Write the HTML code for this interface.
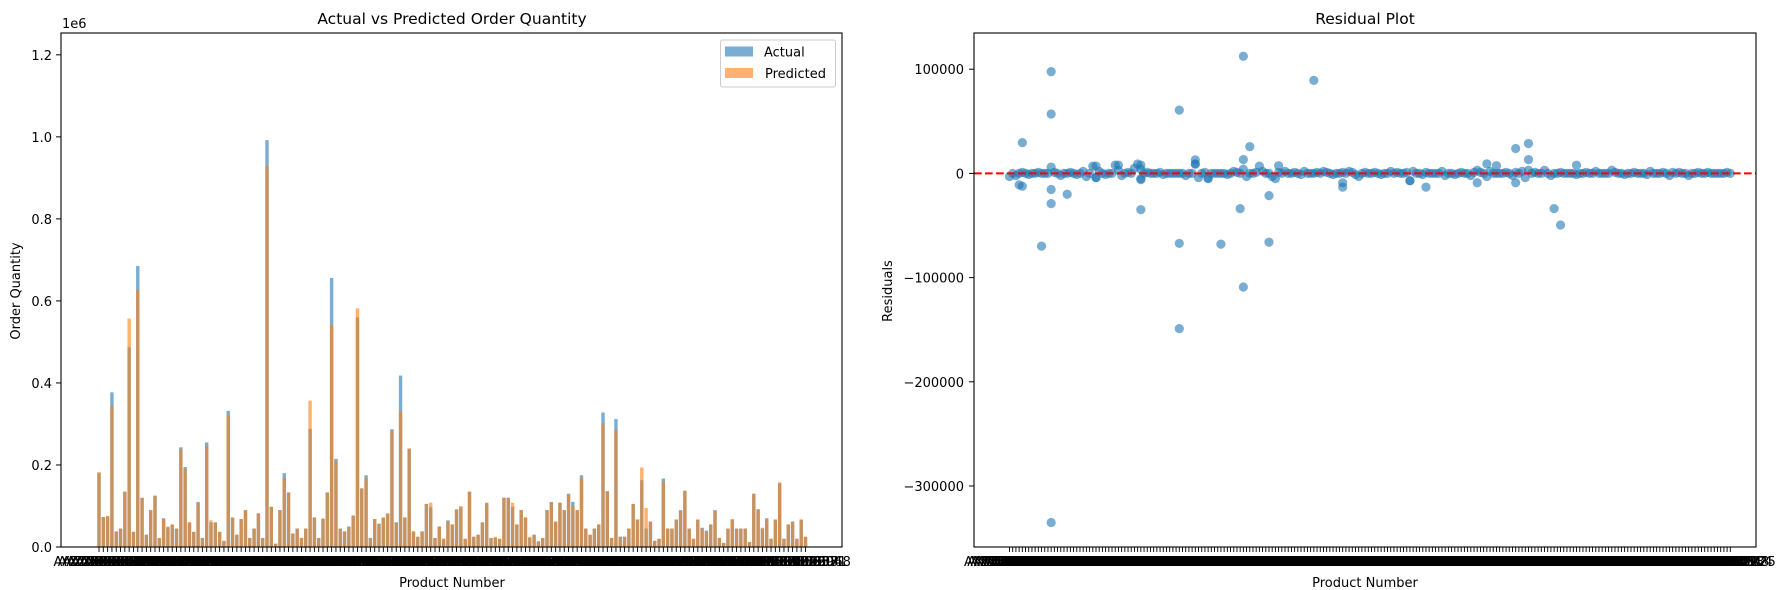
<!DOCTYPE html>
<html>
<head>
<meta charset="utf-8">
<style>
  html,body{margin:0;padding:0;background:#fff;}
  svg{display:block;font-family:"DejaVu Sans","Liberation Sans",sans-serif;}
</style>
</head>
<body>
<svg id="chart" width="1783" height="590" viewBox="0 0 1783 590" xmlns="http://www.w3.org/2000/svg">
  <rect x="0" y="0" width="1783" height="590" fill="#fff"/>
  <g id="left"></g>
  <g id="right"></g>
</svg>
<script>
// ---------- Left chart data (values in thousands) ----------
const actualValues = [180,73,75,377,38,45,135,487,37,685,120,30,90,125,22,70,48,55,45,243,195,60,37,110,22,255,60,60,37,15,332,72,30,68,90,22,45,82,22,992,98,8,90,180,133,33,45,22,45,288,72,22,68,133,656,215,45,38,50,77,560,143,175,22,68,57,72,82,287,60,418,72,240,38,25,38,105,97,22,50,20,65,55,92,97,20,135,25,30,60,108,22,22,20,120,120,98,55,90,72,22,30,14,22,90,110,62,108,90,130,110,90,175,45,30,45,55,
328,136,22,312,25,25,45,105,67,163,45,62,15,20,167,45,45,67,90,137,45,20,67,47,40,55,90,22,10,45,67,45,45,45,12,130,92,45,70,20,67,155,20,55,62,20,67,25];
const predictedValues = [183,73,75,345,38,45,135,557,37,627,120,30,90,125,22,68,50,55,45,238,190,60,37,107,22,246,65,60,37,15,322,72,30,68,90,22,45,82,22,929,98,8,90,168,133,32,45,22,45,357,72,22,70,133,541,210,45,38,48,75,582,143,168,22,68,55,72,80,283,60,330,72,240,38,25,38,105,108,22,50,20,62,55,90,100,20,135,25,30,60,105,22,25,20,120,120,108,55,90,72,25,30,12,22,90,108,62,108,90,128,100,90,168,45,30,45,55,
302,136,22,285,25,25,45,105,67,194,95,62,15,20,160,45,45,67,88,137,45,20,67,45,37,55,88,22,10,45,68,45,45,45,12,130,92,47,67,20,67,158,20,55,62,20,67,25];
const leftTickValues = [0,0.2,0.4,0.6,0.8,1.0,1.2];
const leftTickLabels = ["0.0","0.2","0.4","0.6","0.8","1.0","1.2"];

// ---------- Right chart data (residuals in thousands) ----------
const residualBulk = [-3,0,-2,0,1,0,-1,0,0,1,0,0,0,6,1,0,-2,0,0,1,0,-1,0,2,-3,0,7,-4,2,0,-1,0,0,8,3,-2,0,1,0,5,9,-6,0,1,0,0,0,1,-1,0,0,0,0,0,0,-2,0,0,9,-4,0,1,-5,0,0,0,0,0,-1,0,2,1,0,4,-3,0,0,1,7,2,0,0,-3,-5,1,0,2,0,0,1,0,-1,2,0,0,0,1,0,2,1,0,-1,0,0,1,0,2,1,-1,-3,0,1,0,0,1,0,-1,0,0,2,0,1,0,0,1,-7,2,0,0,-1,1,0,0,0,0,2,-2,0,0,-1,0,1,0,0,-2,1,3,1,0,-3,2,0,0,0,0,1,0,-2,1,0,2,-4,3,0,1,0,0,3,0,-2,0,0,1,0,0,0,0,-1,0,0,1,0,0,2,0,0,0,0,3,1,0,0,-1,0,0,1,0,0,0,-1,2,0,0,0,1,0,-2,1,0,1,0,0,-2,0,0,1,0,0,1,0,0,0,0,0,1,0];
const outlierIdx = [13,13,13,13,13,4,4,3,18,10,41,41,41,41,53,53,53,58,58,66,72,73,73,73,75,81,81,84,95,104,104,125,130,146,149,152,158,158,162,162,170,172,177,62,27,27,34];
const outlierVal = [97.7,57,-15.4,-29,-335,29.5,-12.3,-11,-20,-69.8,-34.8,8,4,-5,60.7,-67.2,-149,13,9,-67.9,-33.8,112.4,-109,13.2,25.7,-21.3,-66,7.4,89.3,-13.2,-9,-7,-13.2,-9,9.2,7.4,23.9,-9,28.7,13.2,-33.8,-49.5,7.9,-4.6,7,-4,8];
const rightTickValues = [100,0,-100,-200,-300];
const rightTickLabels = ["100000","0","\u2212100000","\u2212200000","\u2212300000"];

const NS = "http://www.w3.org/2000/svg";
function mk(parent, tag, attrs, text){
  const e = document.createElementNS(NS, tag);
  for (const k in attrs) e.setAttribute(k, attrs[k]);
  if (text !== undefined) e.textContent = text;
  parent.appendChild(e);
  return e;
}
const TF = '13px';

// ---------- Left axes ----------
const L = {x0:61, x1:842, y0:33, y1:547};
const nBars = actualValues.length;
const lx = i => 99 + i*(805.5-99)/(nBars-1);
const ly = v => 547 - v*0.41015;
const left = document.getElementById('left');
const bw = 3.4;
for (let i=0;i<nBars;i++){
  const r = mk(left,'rect',{x:lx(i)-bw/2, y:ly(actualValues[i]), width:bw, height:547-ly(actualValues[i]), fill:'#1f77b4','fill-opacity':0.6});
  
  
}
for (let i=0;i<nBars;i++){
  const r = mk(left,'rect',{x:lx(i)-bw/2, y:ly(predictedValues[i]), width:bw, height:547-ly(predictedValues[i]), fill:'#ff7f0e','fill-opacity':0.6});
  
  
}
const lframe = mk(left,'rect',{x:L.x0,y:L.y0,width:L.x1-L.x0,height:L.y1-L.y0,fill:'none',stroke:'#000','stroke-width':1.1});


for (let k=0;k<leftTickValues.length;k++){
  const y = ly(leftTickValues[k]*1000);
  mk(left,'line',{x1:56,x2:61,y1:y,y2:y,stroke:'#000','stroke-width':1});
  const t = mk(left,'text',{x:52,y:y+5,'text-anchor':'end','font-size':TF,fill:'#000'}, leftTickLabels[k]);
  
  
}
const lexp = mk(left,'text',{x:62,y:28,'font-size':TF,fill:'#000'},'1e6');


for (let i=0;i<nBars;i++){
  mk(left,'line',{x1:lx(i),x2:lx(i),y1:547,y2:552,stroke:'#000','stroke-width':0.9});
}
for (let i=0;i<nBars;i++){
  const t = mk(left,'text',{x:lx(i),y:566,'text-anchor':'middle','font-size':TF,fill:'#000'},'AYZ'+String(10000000+i*37));
  
  
}
const ltitle = mk(left,'text',{x:452,y:24,'text-anchor':'middle','font-size':'15.5px',fill:'#000'},'Actual vs Predicted Order Quantity');


const lxl = mk(left,'text',{x:452,y:587,'text-anchor':'middle','font-size':TF,fill:'#000'},'Product Number');


const lyl = mk(left,'text',{x:0,y:0,'text-anchor':'middle','font-size':TF,fill:'#000',transform:'translate(20,291) rotate(-90)'},'Order Quantity');


// legend
const lg = mk(left,'g',{});


mk(lg,'rect',{x:720.5,y:40,width:115,height:47,rx:2,fill:'#fff','fill-opacity':0.8,stroke:'#cccccc','stroke-width':1});
const le1 = mk(lg,'rect',{x:725,y:46.5,width:28,height:10,fill:'#1f77b4','fill-opacity':0.6});


mk(lg,'text',{x:764,y:56.5,'font-size':TF,fill:'#000'},'Actual');
const le2 = mk(lg,'rect',{x:725,y:68,width:28,height:10,fill:'#ff7f0e','fill-opacity':0.6});


mk(lg,'text',{x:765,y:78,'font-size':TF,fill:'#000'},'Predicted');

// ---------- Right axes ----------
const R = {x0:974, x1:1756, y0:33, y1:547};
const nRes = residualBulk.length;
const rx = i => 1009.5 + i*3.2036;
const ry = v => 173.4 - v*1.042;
const right = document.getElementById('right');
for (let i=0;i<nRes;i++){
  const c = mk(right,'circle',{cx:rx(i),cy:ry(residualBulk[i]),r:4.6,fill:'#1f77b4','fill-opacity':0.6});
  
  
}
for (let k=0;k<outlierIdx.length;k++){
  const c = mk(right,'circle',{cx:rx(outlierIdx[k]),cy:ry(outlierVal[k]),r:4.6,fill:'#1f77b4','fill-opacity':0.6});
  
  
}
const zl = mk(right,'line',{x1:R.x0,x2:R.x1,y1:ry(0),y2:ry(0),stroke:'#ff0000','stroke-width':2,'stroke-dasharray':'7.7 3.3'});


const rframe = mk(right,'rect',{x:R.x0,y:R.y0,width:R.x1-R.x0,height:R.y1-R.y0,fill:'none',stroke:'#000','stroke-width':1.1});


for (let k=0;k<rightTickValues.length;k++){
  const y = ry(rightTickValues[k]);
  mk(right,'line',{x1:969,x2:974,y1:y,y2:y,stroke:'#000','stroke-width':1});
  const t = mk(right,'text',{x:964,y:y+5,'text-anchor':'end','font-size':TF,fill:'#000'}, rightTickLabels[k]);
  
  
}
for (let i=0;i<nRes;i++){
  mk(right,'line',{x1:rx(i),x2:rx(i),y1:547,y2:552,stroke:'#000','stroke-width':0.9});
}
for (let i=0;i<nRes;i++){
  const t = mk(right,'text',{x:rx(i),y:566,'text-anchor':'middle','font-size':TF,fill:'#000'},'AYZ'+String(10000000+i*41));
  
  
}
const rtitle = mk(right,'text',{x:1365,y:24,'text-anchor':'middle','font-size':'15.5px',fill:'#000'},'Residual Plot');


const rxl = mk(right,'text',{x:1365,y:587,'text-anchor':'middle','font-size':TF,fill:'#000'},'Product Number');


const ryl = mk(right,'text',{x:0,y:0,'text-anchor':'middle','font-size':TF,fill:'#000',transform:'translate(892,291) rotate(-90)'},'Residuals');


</script>
</body>
</html>
